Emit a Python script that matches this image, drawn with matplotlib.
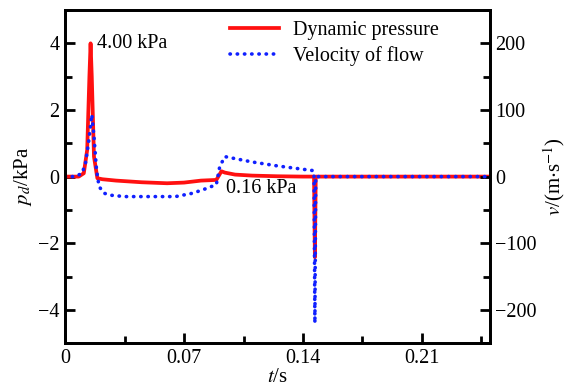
import numpy as np
import matplotlib
matplotlib.use("Agg")
import matplotlib.pyplot as plt
from matplotlib.ticker import MultipleLocator

plt.rcParams['font.family'] = 'serif'
plt.rcParams['font.serif'] = ['Liberation Serif', 'DejaVu Serif']
plt.rcParams['mathtext.fontset'] = 'stix'

# dynamic pressure (kPa) vs time (s)
t_p = [0, 0.008, 0.011, 0.013, 0.0143, 0.0150, 0.0157, 0.0170, 0.0190, 0.022,
       0.030, 0.045, 0.060, 0.070, 0.080, 0.089, 0.092, 0.094, 0.100, 0.110,
       0.125, 0.140, 0.1465, 0.1470, 0.1475, 0.160, 0.250]
p_d = [0, 0, 0.1, 0.8, 3.0, 4.0, 3.0, 0.6, -0.05, -0.08,
       -0.12, -0.17, -0.20, -0.18, -0.12, -0.10, 0.16, 0.12, 0.06, 0.03,
       0.01, 0.0, 0.0, -2.42, 0.0, 0.0, 0.0]

# flow velocity (m/s) vs time (s)
t_v = [0, 0.006, 0.010, 0.012, 0.014, 0.0157, 0.017, 0.0185, 0.020, 0.023,
       0.027, 0.035, 0.050, 0.065, 0.075, 0.083, 0.089, 0.091, 0.094, 0.100,
       0.110, 0.125, 0.140, 0.146, 0.1465, 0.1470, 0.1475, 0.160, 0.250]
vel = [0, 0, 5, 20, 55, 93, 60, 10, -15, -25,
       -28, -30, -30, -30, -25, -18, -12, 15, 30, 27,
       22, 16, 11, 9, 0, -220, 0, 0, 0]

fig, ax = plt.subplots(figsize=(5.71, 3.86), dpi=100)
fig.subplots_adjust(left=0.114, right=0.858, top=0.974, bottom=0.111)
ax2 = ax.twinx()

l1, = ax.plot(t_p, p_d, color='#ff1010', lw=2.7, label='Dynamic pressure')
l2, = ax2.plot(t_v, vel, color='#1020ff', lw=2.6, linestyle=(0, (0.1, 1.9)),
               dash_capstyle='round', label='Velocity of flow')

ax.set_xlim(0, 0.25)
ax.set_ylim(-5, 5)
ax2.set_ylim(-250, 250)

ax.xaxis.set_major_locator(MultipleLocator(0.07))
ax.xaxis.set_minor_locator(MultipleLocator(0.035))
ax.yaxis.set_major_locator(MultipleLocator(2))
ax.yaxis.set_minor_locator(MultipleLocator(1))
ax2.yaxis.set_major_locator(MultipleLocator(100))
ax2.yaxis.set_minor_locator(MultipleLocator(50))
ax.set_xticks([0, 0.07, 0.14, 0.21])
ax.set_xticklabels(['0', '0.07', '0.14', '0.21'])

for a in (ax, ax2):
    for s in a.spines.values():
        s.set_linewidth(2)
    a.tick_params(which='major', direction='in', length=7, width=2, labelsize=14.5, pad=4)
    a.tick_params(which='minor', direction='in', length=5, width=2)

ax.set_xlabel('$t$/s', fontsize=15, labelpad=0)
ax.set_ylabel('$p_d$/kPa', fontsize=15, labelpad=3)
ax2.set_ylabel(r'$v$/(m$\cdot$s$^{-1}$)', fontsize=15, labelpad=3)

ax.text(0.0185, 4.0, '4.00 kPa', fontsize=14.5, va='center', ha='left')
ax.text(0.0945, -0.35, '0.16 kPa', fontsize=14.5, va='center', ha='left')

ax2.legend(handles=[l1, l2], loc='upper right', bbox_to_anchor=(0.905, 1.0),
           frameon=False, fontsize=14.5, handlelength=2.4, handletextpad=0.7,
           labelspacing=0.3, borderaxespad=0.15)

fig.savefig('out.png', dpi=100)
